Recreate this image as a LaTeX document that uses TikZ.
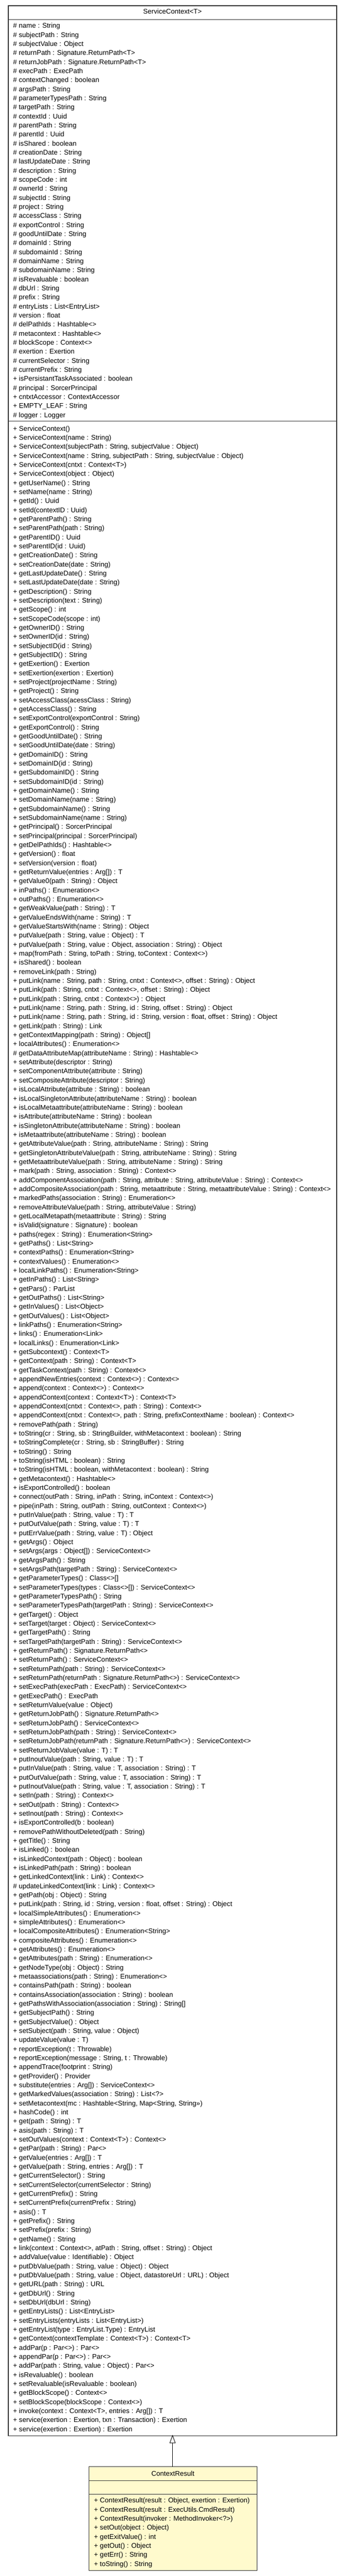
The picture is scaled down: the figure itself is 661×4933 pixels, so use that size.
\documentclass[tikz,border=0pt]{standalone}
\usepackage{fontspec}
\setmainfont{Liberation Sans}
\usepackage{xcolor}
\definecolor{cryellow}{HTML}{FFFACD}
\definecolor{framegray}{HTML}{333333}
\newcommand{\umlfont}{\fontsize{13.1}{17.335}\selectfont}
\newcommand{\ul}[1]{\hbox{\rule{0pt}{12pt}#1}}
\tikzset{
  umltext/.style={anchor=north west, inner sep=0pt, font=\umlfont},
  umltitle/.style={anchor=base, inner sep=0pt, font=\umlfont},
  frame/.style={draw=framegray, line width=1.1pt},
  sepline/.style={draw=framegray, line width=1.1pt},
  gen/.style={draw=black, line width=0.9pt},
}
\begin{document}
\begin{tikzpicture}[x=1pt,y=-1pt]
\useasboundingbox[fill=white] (0,0) rectangle (661,4933);
% ServiceContext class
\coordinate (sctl) at (16,11);
\coordinate (scbr) at (645,4664);
\draw[frame, fill=white] (sctl) rectangle (scbr);
\draw[sepline] (16,37.3) -- (645,37.3);
\draw[sepline] (16,806.7) -- (645,806.7);
\node[umltitle] (sctitle) at (330.5,27) {ServiceContext<T>};
\node[umltext] (scattr) at (25,41.5) {\umlfont\vtop{%
\ul{\# name : String}
\ul{\# subjectPath : String}
\ul{\# subjectValue : Object}
\ul{\# returnPath : Signature.ReturnPath<T>}
\ul{\# returnJobPath : Signature.ReturnPath<T>}
\ul{\# execPath : ExecPath}
\ul{\# contextChanged : boolean}
\ul{\# argsPath : String}
\ul{\# parameterTypesPath : String}
\ul{\# targetPath : String}
\ul{\# contextId : Uuid}
\ul{\# parentPath : String}
\ul{\# parentId : Uuid}
\ul{\# isShared : boolean}
\ul{\# creationDate : String}
\ul{\# lastUpdateDate : String}
\ul{\# description : String}
\ul{\# scopeCode : int}
\ul{\# ownerId : String}
\ul{\# subjectId : String}
\ul{\# project : String}
\ul{\# accessClass : String}
\ul{\# exportControl : String}
\ul{\# goodUntilDate : String}
\ul{\# domainId : String}
\ul{\# subdomainId : String}
\ul{\# domainName : String}
\ul{\# subdomainName : String}
\ul{\# isRevaluable : boolean}
\ul{\# dbUrl : String}
\ul{\# prefix : String}
\ul{\# entryLists : List<EntryList>}
\ul{\# version : float}
\ul{\# delPathIds : Hashtable<>}
\ul{\# metacontext : Hashtable<>}
\ul{\# blockScope : Context<>}
\ul{\# exertion : Exertion}
\ul{\# currentSelector : String}
\ul{\# currentPrefix : String}
\ul{+ isPersistantTaskAssociated : boolean}
\ul{\# principal : SorcerPrincipal}
\ul{+ cntxtAccessor : ContextAccessor}
\ul{+ EMPTY\_LEAF : String}
\ul{\# logger : Logger}}};
\node[umltext] (scmeth) at (25,813) {\umlfont\vtop{%
\ul{+ ServiceContext()}
\ul{+ ServiceContext(name : String)}
\ul{+ ServiceContext(subjectPath : String, subjectValue : Object)}
\ul{+ ServiceContext(name : String, subjectPath : String, subjectValue : Object)}
\ul{+ ServiceContext(cntxt : Context<T>)}
\ul{+ ServiceContext(object : Object)}
\ul{+ getUserName() : String}
\ul{+ setName(name : String)}
\ul{+ getId() : Uuid}
\ul{+ setId(contextID : Uuid)}
\ul{+ getParentPath() : String}
\ul{+ setParentPath(path : String)}
\ul{+ getParentID() : Uuid}
\ul{+ setParentID(id : Uuid)}
\ul{+ getCreationDate() : String}
\ul{+ setCreationDate(date : String)}
\ul{+ getLastUpdateDate() : String}
\ul{+ setLastUpdateDate(date : String)}
\ul{+ getDescription() : String}
\ul{+ setDescription(text : String)}
\ul{+ getScope() : int}
\ul{+ setScopeCode(scope : int)}
\ul{+ getOwnerID() : String}
\ul{+ setOwnerID(id : String)}
\ul{+ setSubjectID(id : String)}
\ul{+ getSubjectID() : String}
\ul{+ getExertion() : Exertion}
\ul{+ setExertion(exertion : Exertion)}
\ul{+ setProject(projectName : String)}
\ul{+ getProject() : String}
\ul{+ setAccessClass(acessClass : String)}
\ul{+ getAccessClass() : String}
\ul{+ setExportControl(exportControl : String)}
\ul{+ getExportControl() : String}
\ul{+ getGoodUntilDate() : String}
\ul{+ setGoodUntilDate(date : String)}
\ul{+ getDomainID() : String}
\ul{+ setDomainID(id : String)}
\ul{+ getSubdomainID() : String}
\ul{+ setSubdomainID(id : String)}
\ul{+ getDomainName() : String}
\ul{+ setDomainName(name : String)}
\ul{+ getSubdomainName() : String}
\ul{+ setSubdomainName(name : String)}
\ul{+ getPrincipal() : SorcerPrincipal}
\ul{+ setPrincipal(principal : SorcerPrincipal)}
\ul{+ getDelPathIds() : Hashtable<>}
\ul{+ getVersion() : float}
\ul{+ setVersion(version : float)}
\ul{+ getReturnValue(entries : Arg[]) : T}
\ul{+ getValue0(path : String) : Object}
\ul{+ inPaths() : Enumeration<>}
\ul{+ outPaths() : Enumeration<>}
\ul{+ getWeakValue(path : String) : T}
\ul{+ getValueEndsWith(name : String) : T}
\ul{+ getValueStartsWith(name : String) : Object}
\ul{+ putValue(path : String, value : Object) : T}
\ul{+ putValue(path : String, value : Object, association : String) : Object}
\ul{+ map(fromPath : String, toPath : String, toContext : Context<>)}
\ul{+ isShared() : boolean}
\ul{+ removeLink(path : String)}
\ul{+ putLink(name : String, path : String, cntxt : Context<>, offset : String) : Object}
\ul{+ putLink(path : String, cntxt : Context<>, offset : String) : Object}
\ul{+ putLink(path : String, cntxt : Context<>) : Object}
\ul{+ putLink(name : String, path : String, id : String, offset : String) : Object}
\ul{+ putLink(name : String, path : String, id : String, version : float, offset : String) : Object}
\ul{+ getLink(path : String) : Link}
\ul{+ getContextMapping(path : String) : Object[]}
\ul{+ localAttributes() : Enumeration<>}
\ul{\# getDataAttributeMap(attributeName : String) : Hashtable<>}
\ul{+ setAttribute(descriptor : String)}
\ul{+ setComponentAttribute(attribute : String)}
\ul{+ setCompositeAttribute(descriptor : String)}
\ul{+ isLocalAttribute(attribute : String) : boolean}
\ul{+ isLocalSingletonAttribute(attributeName : String) : boolean}
\ul{+ isLocalMetaattribute(attributeName : String) : boolean}
\ul{+ isAttribute(attributeName : String) : boolean}
\ul{+ isSingletonAttribute(attributeName : String) : boolean}
\ul{+ isMetaattribute(attributeName : String) : boolean}
\ul{+ getAttributeValue(path : String, attributeName : String) : String}
\ul{+ getSingletonAttributeValue(path : String, attributeName : String) : String}
\ul{+ getMetaattributeValue(path : String, attributeName : String) : String}
\ul{+ mark(path : String, association : String) : Context<>}
\ul{+ addComponentAssociation(path : String, attribute : String, attributeValue : String) : Context<>}
\ul{+ addCompositeAssociation(path : String, metaattribute : String, metaattributeValue : String) : Context<>}
\ul{+ markedPaths(association : String) : Enumeration<>}
\ul{+ removeAttributeValue(path : String, attributeValue : String)}
\ul{+ getLocalMetapath(metaattribute : String) : String}
\ul{+ isValid(signature : Signature) : boolean}
\ul{+ paths(regex : String) : Enumeration<String>}
\ul{+ getPaths() : List<String>}
\ul{+ contextPaths() : Enumeration<String>}
\ul{+ contextValues() : Enumeration<>}
\ul{+ localLinkPaths() : Enumeration<String>}
\ul{+ getInPaths() : List<String>}
\ul{+ getPars() : ParList}
\ul{+ getOutPaths() : List<String>}
\ul{+ getInValues() : List<Object>}
\ul{+ getOutValues() : List<Object>}
\ul{+ linkPaths() : Enumeration<String>}
\ul{+ links() : Enumeration<Link>}
\ul{+ localLinks() : Enumeration<Link>}
\ul{+ getSubcontext() : Context<T>}
\ul{+ getContext(path : String) : Context<T>}
\ul{+ getTaskContext(path : String) : Context<>}
\ul{+ appendNewEntries(context : Context<>) : Context<>}
\ul{+ append(context : Context<>) : Context<>}
\ul{+ appendContext(context : Context<T>) : Context<T>}
\ul{+ appendContext(cntxt : Context<>, path : String) : Context<>}
\ul{+ appendContext(cntxt : Context<>, path : String, prefixContextName : boolean) : Context<>}
\ul{+ removePath(path : String)}
\ul{+ toString(cr : String, sb : StringBuilder, withMetacontext : boolean) : String}
\ul{+ toStringComplete(cr : String, sb : StringBuffer) : String}
\ul{+ toString() : String}
\ul{+ toString(isHTML : boolean) : String}
\ul{+ toString(isHTML : boolean, withMetacontext : boolean) : String}
\ul{+ getMetacontext() : Hashtable<>}
\ul{+ isExportControlled() : boolean}
\ul{+ connect(outPath : String, inPath : String, inContext : Context<>)}
\ul{+ pipe(inPath : String, outPath : String, outContext : Context<>)}
\ul{+ putInValue(path : String, value : T) : T}
\ul{+ putOutValue(path : String, value : T) : T}
\ul{+ putErrValue(path : String, value : T) : Object}
\ul{+ getArgs() : Object}
\ul{+ setArgs(args : Object[]) : ServiceContext<>}
\ul{+ getArgsPath() : String}
\ul{+ setArgsPath(targetPath : String) : ServiceContext<>}
\ul{+ getParameterTypes() : Class<>[]}
\ul{+ setParameterTypes(types : Class<>[]) : ServiceContext<>}
\ul{+ getParameterTypesPath() : String}
\ul{+ setParameterTypesPath(targetPath : String) : ServiceContext<>}
\ul{+ getTarget() : Object}
\ul{+ setTarget(target : Object) : ServiceContext<>}
\ul{+ getTargetPath() : String}
\ul{+ setTargetPath(targetPath : String) : ServiceContext<>}
\ul{+ getReturnPath() : Signature.ReturnPath<>}
\ul{+ setReturnPath() : ServiceContext<>}
\ul{+ setReturnPath(path : String) : ServiceContext<>}
\ul{+ setReturnPath(returnPath : Signature.ReturnPath<>) : ServiceContext<>}
\ul{+ setExecPath(execPath : ExecPath) : ServiceContext<>}
\ul{+ getExecPath() : ExecPath}
\ul{+ setReturnValue(value : Object)}
\ul{+ getReturnJobPath() : Signature.ReturnPath<>}
\ul{+ setReturnJobPath() : ServiceContext<>}
\ul{+ setReturnJobPath(path : String) : ServiceContext<>}
\ul{+ setReturnJobPath(returnPath : Signature.ReturnPath<>) : ServiceContext<>}
\ul{+ setReturnJobValue(value : T) : T}
\ul{+ putInoutValue(path : String, value : T) : T}
\ul{+ putInValue(path : String, value : T, association : String) : T}
\ul{+ putOutValue(path : String, value : T, association : String) : T}
\ul{+ putInoutValue(path : String, value : T, association : String) : T}
\ul{+ setIn(path : String) : Context<>}
\ul{+ setOut(path : String) : Context<>}
\ul{+ setInout(path : String) : Context<>}
\ul{+ isExportControlled(b : boolean)}
\ul{+ removePathWithoutDeleted(path : String)}
\ul{+ getTitle() : String}
\ul{+ isLinked() : boolean}
\ul{+ isLinkedContext(path : Object) : boolean}
\ul{+ isLinkedPath(path : String) : boolean}
\ul{+ getLinkedContext(link : Link) : Context<>}
\ul{\# updateLinkedContext(link : Link) : Context<>}
\ul{+ getPath(obj : Object) : String}
\ul{+ putLink(path : String, id : String, version : float, offset : String) : Object}
\ul{+ localSimpleAttributes() : Enumeration<>}
\ul{+ simpleAttributes() : Enumeration<>}
\ul{+ localCompositeAttributes() : Enumeration<String>}
\ul{+ compositeAttributes() : Enumeration<>}
\ul{+ getAttributes() : Enumeration<>}
\ul{+ getAttributes(path : String) : Enumeration<>}
\ul{+ getNodeType(obj : Object) : String}
\ul{+ metaassociations(path : String) : Enumeration<>}
\ul{+ containsPath(path : String) : boolean}
\ul{+ containsAssociation(association : String) : boolean}
\ul{+ getPathsWithAssociation(association : String) : String[]}
\ul{+ getSubjectPath() : String}
\ul{+ getSubjectValue() : Object}
\ul{+ setSubject(path : String, value : Object)}
\ul{+ updateValue(value : T)}
\ul{+ reportException(t : Throwable)}
\ul{+ reportException(message : String, t : Throwable)}
\ul{+ appendTrace(footprint : String)}
\ul{+ getProvider() : Provider}
\ul{+ substitute(entries : Arg[]) : ServiceContext<>}
\ul{+ getMarkedValues(association : String) : List<?>}
\ul{+ setMetacontext(mc : Hashtable<String, Map<String, String>>)}
\ul{+ hashCode() : int}
\ul{+ get(path : String) : T}
\ul{+ asis(path : String) : T}
\ul{+ setOutValues(context : Context<T>) : Context<>}
\ul{+ getPar(path : String) : Par<>}
\ul{+ getValue(entries : Arg[]) : T}
\ul{+ getValue(path : String, entries : Arg[]) : T}
\ul{+ getCurrentSelector() : String}
\ul{+ setCurrentSelector(currentSelector : String)}
\ul{+ getCurrentPrefix() : String}
\ul{+ setCurrentPrefix(currentPrefix : String)}
\ul{+ asis() : T}
\ul{+ getPrefix() : String}
\ul{+ setPrefix(prefix : String)}
\ul{+ getName() : String}
\ul{+ link(context : Context<>, atPath : String, offset : String) : Object}
\ul{+ addValue(value : Identifiable) : Object}
\ul{+ putDbValue(path : String, value : Object) : Object}
\ul{+ putDbValue(path : String, value : Object, datastoreUrl : URL) : Object}
\ul{+ getURL(path : String) : URL}
\ul{+ getDbUrl() : String}
\ul{+ setDbUrl(dbUrl : String)}
\ul{+ getEntryLists() : List<EntryList>}
\ul{+ setEntryLists(entryLists : List<EntryList>)}
\ul{+ getEntryList(type : EntryList.Type) : EntryList}
\ul{+ getContext(contextTemplate : Context<T>) : Context<T>}
\ul{+ addPar(p : Par<>) : Par<>}
\ul{+ appendPar(p : Par<>) : Par<>}
\ul{+ addPar(path : String, value : Object) : Par<>}
\ul{+ isRevaluable() : boolean}
\ul{+ setRevaluable(isRevaluable : boolean)}
\ul{+ getBlockScope() : Context<>}
\ul{+ setBlockScope(blockScope : Context<>)}
\ul{+ invoke(context : Context<T>, entries : Arg[]) : T}
\ul{+ service(exertion : Exertion, txn : Transaction) : Exertion}
\ul{+ service(exertion : Exertion) : Exertion}}};
% ContextResult class
\coordinate (crtl) at (170.3,4723.7);
\coordinate (crbr) at (492.3,4922.3);
\draw[frame, fill=cryellow] (crtl) rectangle (crbr);
\draw[sepline] (170.3,4750.7) -- (492.3,4750.7);
\draw[sepline] (170.3,4776) -- (492.3,4776);
\node[umltitle] (crtitle) at (331.3,4741.3) {ContextResult};
\node[umltext] (crmeth) at (180,4780.7) {\umlfont\vtop{%
\ul{+ ContextResult(result : Object, exertion : Exertion)}
\ul{+ ContextResult(result : ExecUtils.CmdResult)}
\ul{+ ContextResult(invoker : MethodInvoker<?>)}
\ul{+ setOut(object : Object)}
\ul{+ getExitValue() : int}
\ul{+ getOut() : Object}
\ul{+ getErr() : String}
\ul{+ toString() : String}}};
% generalization ContextResult -> ServiceContext
\coordinate (crtopc) at (330.6,4723.7);
\coordinate (tip) at (330.6,4664);
\coordinate (tipbase) at (330.6,4678);
\draw[gen] (crtopc) -- (tipbase);
\draw[gen, fill=white] (tip) -- (325.4,4678) -- (335.8,4678) -- cycle;
\end{tikzpicture}
\end{document}
